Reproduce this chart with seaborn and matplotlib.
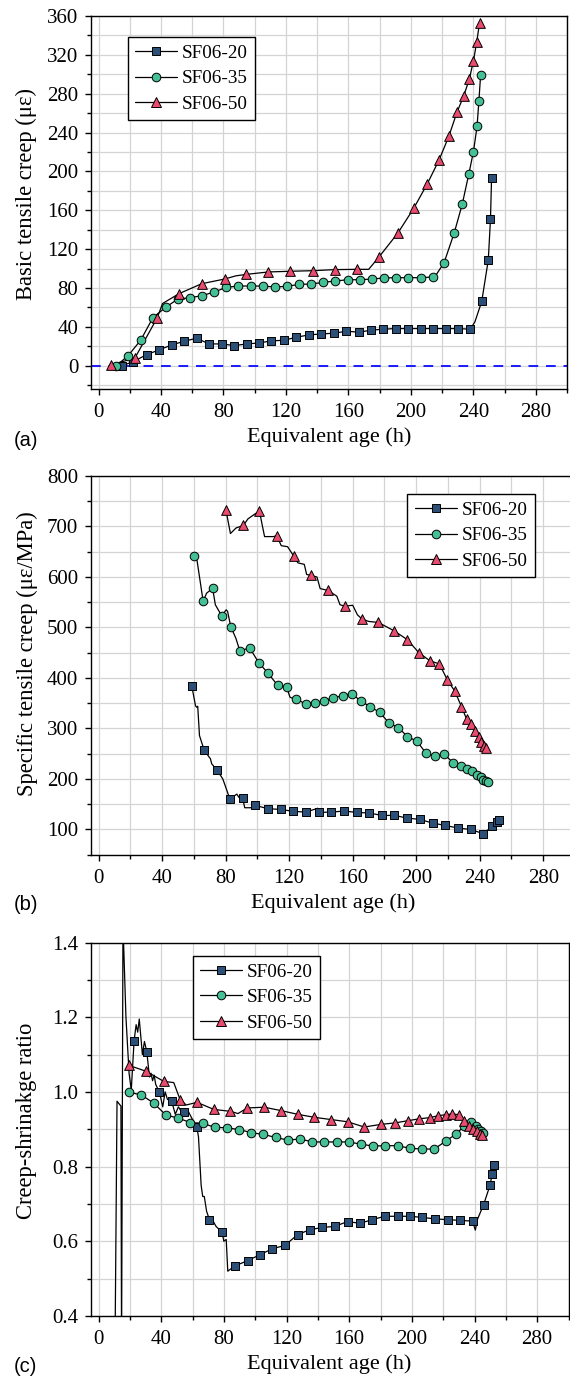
import numpy as np
import pandas as pd
import matplotlib
matplotlib.use("Agg")
import matplotlib.pyplot as plt
import seaborn as sns
from matplotlib.lines import Line2D
from matplotlib.ticker import MultipleLocator

# ---------------- DATA ----------------
series_names = ["SF06-20", "SF06-35", "SF06-50"]

# Panel (a): basic tensile creep (με)
a20_x = [15.1, 22.0, 30.9, 38.7, 46.9, 55.0, 62.9, 70.7, 78.9, 87.0, 94.9, 102.8, 110.6, 118.8, 126.7, 134.8,
         142.7, 150.8, 158.7, 166.8, 174.4, 182.3, 190.4, 198.3, 206.2, 214.1, 222.2, 230.1, 238.0, 245.4,
         249.6, 251.0, 251.7]
a20_y = [0.0, 4.0, 11.4, 16.2, 21.4, 25.2, 28.3, 22.4, 22.4, 20.7, 22.4, 23.4, 25.5, 26.2, 29.3, 31.7,
         32.7, 33.4, 35.5, 34.5, 36.5, 37.6, 38.2, 38.2, 38.2, 38.2, 38.2, 38.2, 37.6, 66.1,
         108.9, 150.9, 193.6]
a20_xe = [12.0, 241.0]
a20_ye = [0.0, 45.0]

a35_x = [11.4, 19.0, 27.1, 34.8, 42.9, 50.8, 58.5, 66.1, 74.0, 81.7, 89.5, 97.4, 105.1, 113.0, 120.6, 128.5,
         136.2, 144.0, 151.7, 159.6, 167.2, 175.1, 182.8, 190.7, 198.3, 206.2, 213.9, 221.3, 227.8, 232.9,
         237.1, 240.1, 242.4, 243.6, 244.7]
a35_y = [0.0, 10.3, 26.5, 49.3, 60.0, 68.6, 70.0, 72.0, 75.8, 80.6, 82.0, 82.0, 82.0, 81.0, 81.7, 83.7,
         84.1, 85.8, 87.2, 88.5, 88.5, 89.2, 90.3, 90.6, 90.6, 90.6, 91.3, 106.1, 136.8, 166.1,
         197.1, 220.5, 246.3, 272.9, 299.7]
a35_xe = [216.0]
a35_ye = [93.0]

a50_x = [7.9, 23.2, 37.6, 51.5, 66.1, 80.7, 94.6, 108.8, 122.9, 137.3, 151.4, 165.8, 179.8, 191.8, 201.8,
         210.6, 218.0, 224.3, 229.6, 233.8, 237.5, 240.1, 242.2, 244.0]
a50_y = [1.0, 7.6, 49.3, 74.1, 84.4, 89.2, 94.0, 96.5, 97.2, 97.8, 98.9, 99.2, 112.3, 136.8, 161.9,
         187.4, 211.5, 236.0, 261.2, 277.4, 295.3, 313.9, 333.2, 353.1]
a50_xe = [41.0, 88.0, 173.0]
a50_ye = [64.0, 92.5, 99.2]

# Panel (b): specific tensile creep (με/MPa)
b20_x = [58.7, 66.5, 74.7, 82.7, 90.7, 98.7, 106.7, 114.7, 122.5, 130.5, 138.5, 146.5, 154.5, 162.5, 170.5,
         178.3, 186.3, 194.3, 202.3, 210.3, 218.3, 226.3, 234.3, 242.3, 248.0, 250.7, 252.1]
b20_y = [383.6, 256.7, 217.0, 159.6, 162.2, 147.7, 141.0, 139.7, 135.8, 134.4, 133.8, 134.4, 136.4, 133.8, 132.5,
         127.8, 127.8, 122.5, 119.9, 112.6, 108.0, 102.7, 100.0, 91.5, 106.7, 114.6, 118.0]
b20_xe = [61.0, 61.7, 62.4, 63.5, 70.4, 71.2, 78.2, 80.0, 85.7, 87.0, 88.5, 92.0, 97.0, 138.0]
b20_ye = [345.0, 342.0, 344.0, 286.0, 240.0, 230.0, 200.0, 184.0, 167.0, 170.0, 163.0, 143.0, 143.0, 142.0]

b35_x = [60.1, 65.8, 71.8, 77.5, 83.2, 88.9, 95.1, 100.8, 106.7, 112.7, 118.4, 124.3, 130.3, 136.0, 141.9,
         147.7, 153.6, 159.3, 165.3, 171.2, 176.9, 182.9, 188.8, 194.5, 200.5, 206.2, 212.1, 217.6, 223.3,
         227.9, 232.0, 235.4, 238.2, 240.5, 242.3, 243.9, 245.0]
b35_y = [641.4, 552.2, 577.3, 523.1, 501.9, 453.7, 459.6, 430.5, 409.4, 385.6, 381.6, 358.5, 348.6, 349.9, 355.2,
         360.5, 365.1, 369.1, 353.9, 342.6, 332.1, 310.9, 301.7, 283.8, 274.6, 250.8, 245.5, 248.8, 232.3,
         225.0, 219.0, 215.1, 208.5, 203.2, 198.6, 195.9, 193.9]
b35_xe = [62.0, 68.0, 73.5, 80.3, 81.2, 86.5, 120.5, 122.0]
b35_ye = [632.0, 568.0, 545.0, 535.0, 532.0, 478.0, 362.0, 360.0]

b50_x = [80.2, 91.2, 101.3, 112.2, 123.0, 133.7, 144.5, 155.0, 165.7, 176.2, 186.1, 194.3, 201.8, 208.7, 214.6,
         219.7, 224.2, 228.5, 231.7, 234.7, 237.3, 239.3, 241.1, 242.7, 244.1]
b50_y = [732.6, 702.2, 730.0, 681.7, 640.7, 603.0, 573.3, 542.2, 517.1, 509.9, 493.3, 476.1, 449.7, 433.8, 427.9,
         395.5, 374.4, 343.3, 318.8, 309.6, 294.4, 282.5, 272.6, 265.3, 262.0]
b50_xe = [83.0, 86.5, 94.0, 98.5, 103.2, 104.5, 110.0, 115.0, 119.0, 125.5, 129.5, 131.0, 137.5, 139.5,
          150.0, 152.0, 160.0, 163.0, 170.0]
b50_ye = [686.0, 697.0, 715.0, 725.0, 700.0, 680.0, 680.0, 662.0, 660.0, 628.0, 625.0, 605.0, 600.0, 577.0,
          562.0, 545.0, 544.0, 525.0, 512.0]

# Panel (c): creep-shrinkage ratio
c20_x = [22.7, 30.8, 38.9, 46.7, 54.8, 62.7, 70.8, 78.9, 87.0, 95.1, 103.0, 110.9, 119.0, 127.1, 134.9, 142.8,
         150.9, 159.0, 166.9, 174.7, 182.8, 190.9, 198.8, 206.7, 214.8, 222.9, 230.7, 238.8, 245.8, 249.9,
         251.3, 252.3]
c20_y = [1.137, 1.108, 0.999, 0.975, 0.946, 0.906, 0.658, 0.624, 0.534, 0.548, 0.564, 0.580, 0.589, 0.618,
         0.631, 0.637, 0.640, 0.653, 0.648, 0.658, 0.667, 0.667, 0.667, 0.664, 0.660, 0.658, 0.656, 0.654,
         0.698, 0.750, 0.781, 0.805]
c20_xe = [10.5, 11.8, 14.3, 14.7, 15.6, 17.5, 19.5, 20.9, 24.0, 25.0, 26.0, 28.0, 29.3, 32.5, 33.5, 34.5,
          35.5, 36.5, 41.0, 42.5, 44.0, 49.0, 51.0, 52.5, 57.0, 59.5, 63.8, 65.5, 66.5, 67.5, 69.0, 73.0,
          75.0, 80.0, 81.5, 82.5, 240.5, 242.0]
c20_ye = [0.30, 0.975, 0.962, 0.30, 1.45, 1.20, 1.05, 1.005, 1.18, 1.16, 1.195, 1.10, 1.135, 1.04, 1.05, 1.03,
          1.045, 1.02, 0.96, 1.00, 0.98, 0.94, 0.96, 0.95, 0.95, 0.93, 0.88, 0.75, 0.72, 0.72, 0.68, 0.655,
          0.64, 0.60, 0.605, 0.52, 0.63, 0.66]

c35_x = [19.4, 27.3, 35.2, 43.0, 50.7, 58.6, 66.4, 74.3, 81.9, 89.8, 97.4, 105.3, 113.2, 120.8, 128.7, 136.5,
         144.2, 152.0, 159.7, 167.6, 175.2, 183.1, 190.9, 198.8, 206.4, 214.3, 221.9, 228.2, 233.3, 237.7,
         240.7, 242.5, 243.9, 245.3]
c35_y = [0.999, 0.992, 0.970, 0.938, 0.930, 0.918, 0.916, 0.905, 0.904, 0.899, 0.891, 0.886, 0.878, 0.871,
         0.874, 0.866, 0.866, 0.866, 0.866, 0.860, 0.855, 0.856, 0.856, 0.849, 0.847, 0.847, 0.869, 0.887,
         0.908, 0.919, 0.908, 0.901, 0.896, 0.890]
c35_xe = []
c35_ye = []

c50_x = [19.4, 30.5, 41.7, 52.1, 62.9, 73.6, 84.2, 94.9, 105.8, 116.4, 127.1, 137.7, 148.3, 159.0, 169.6,
         180.3, 189.3, 197.6, 204.8, 211.3, 216.6, 221.5, 225.9, 229.8, 233.3, 236.5, 239.3, 241.6, 243.2, 244.6]
c50_y = [1.071, 1.055, 1.028, 0.979, 0.972, 0.953, 0.948, 0.957, 0.959, 0.950, 0.940, 0.932, 0.926, 0.920, 0.906,
         0.913, 0.917, 0.923, 0.928, 0.931, 0.936, 0.939, 0.941, 0.939, 0.923, 0.908, 0.901, 0.895, 0.888, 0.885]
c50_xe = [48.0, 56.0, 89.0]
c50_ye = [1.025, 0.965, 0.942]

# ---------------- STYLE ----------------
sns.set_theme(style="white")
plt.rcParams['font.family'] = ['Liberation Serif', 'DejaVu Serif']
for k in ['text.color', 'axes.labelcolor', 'xtick.color', 'ytick.color', 'axes.edgecolor']:
    plt.rcParams[k] = 'black'

colors = ["#2b4f76", "#45c095", "#e84b6d"]
markers = ["s", "o", "^"]
msizes = [5.2, 6.2, 7.0]

fig = plt.figure(figsize=(5.7, 13.79), dpi=100)

positions = [
    [90.7 / 570, 1 - 389 / 1379, (567 - 90.7) / 570, (389 - 16) / 1379],
    [90.7 / 570, 1 - 854.7 / 1379, (575 - 90.7) / 570, (854.7 - 476) / 1379],
    [90.7 / 570, 1 - 1316 / 1379, (568.5 - 90.7) / 570, (1316 - 942.5) / 1379],
]

panels = [
    dict(data=[(a20_x, a20_y, a20_xe, a20_ye), (a35_x, a35_y, a35_xe, a35_ye), (a50_x, a50_y, a50_xe, a50_ye)],
         ylim=(-24, 360), ymaj=40, ymin=20, ylabel="Basic tensile creep (\u03bc\u03b5)",
         leg=(0.0775, 0.943), tag="(a)", tag_y=440, ylab=(-0.112, 0.522)),
    dict(data=[(b20_x, b20_y, b20_xe, b20_ye), (b35_x, b35_y, b35_xe, b35_ye), (b50_x, b50_y, b50_xe, b50_ye)],
         ylim=(50, 800), ymaj=100, ymin=50, ylabel="Specific tensile creep (\u03bc\u03b5/MPa)",
         leg=(0.654, 0.952), tag="(b)", tag_y=905, ylab=(-0.108, 0.53)),
    dict(data=[(c20_x, c20_y, c20_xe, c20_ye), (c35_x, c35_y, c35_xe, c35_ye), (c50_x, c50_y, c50_xe, c50_ye)],
         ylim=(0.4, 1.4), ymaj=0.2, ymin=0.1, ylabel="Creep-shrinakge ratio",
         leg=(0.2135, 0.964), tag="(c)", tag_y=1367, ylab=(-0.112, 0.522)),
]

for i, (pos, p) in enumerate(zip(positions, panels)):
    ax = fig.add_axes(pos)
    ax.set_axisbelow(True)
    ax.grid(which='both', color='#d4d4d4', lw=0.9)
    if i == 0:
        ax.axhline(0, color='#1a1aff', lw=1.4, ls=(0, (5, 4)), zorder=1.5)
    for (xm, ym, xe, ye), col, mk, ms in zip(p['data'], colors, markers, msizes):
        lx = np.concatenate([np.asarray(xm, float), np.asarray(xe, float)])
        ly = np.concatenate([np.asarray(ym, float), np.asarray(ye, float)])
        order = np.argsort(lx, kind='stable')
        df = pd.DataFrame({'x': lx[order], 'y': ly[order]})
        sns.lineplot(data=df, x='x', y='y', ax=ax, sort=False, estimator=None,
                     color='black', lw=0.9, zorder=2)
        sns.scatterplot(x=list(xm), y=list(ym), ax=ax, marker=mk, s=ms ** 2, color=col,
                        edgecolor='black', linewidth=0.7, zorder=3)
    ax.set_xlim(-5, 300)
    ax.set_ylim(*p['ylim'])
    ax.xaxis.set_major_locator(MultipleLocator(40))
    ax.xaxis.set_minor_locator(MultipleLocator(20))
    ax.yaxis.set_major_locator(MultipleLocator(p['ymaj']))
    ax.yaxis.set_minor_locator(MultipleLocator(p['ymin']))
    ax.set_xticks(np.arange(0, 281, 40))
    if i == 2:
        ax.set_yticks(np.round(np.arange(0.4, 1.41, 0.2), 1))
        ax.set_yticklabels([f"{v:.1f}" for v in np.arange(0.4, 1.41, 0.2)])
    for s in ax.spines.values():
        s.set_visible(True)
        s.set_color('black')
        s.set_linewidth(1.0)
    ax.tick_params(which='major', direction='out', length=4.5, width=1.0, labelsize=15,
                   left=True, bottom=True, top=False, right=False)
    ax.tick_params(which='minor', direction='out', length=2.8, width=1.0,
                   left=True, bottom=True, top=False, right=False)
    ax.tick_params(axis='x', which='major', pad=5.5)
    ax.tick_params(axis='y', which='major', pad=4.5)
    ax.set_xlabel("Equivalent age (h)", fontsize=16)
    ax.set_ylabel(p['ylabel'], fontsize=16.3)
    ax.xaxis.set_label_coords(0.5, -0.103)
    ax.yaxis.set_label_coords(*p['ylab'])

    handles = [Line2D([0], [0], color='black', lw=0.9, marker=mk, markersize=ms,
                      markerfacecolor=col, markeredgecolor='black', markeredgewidth=0.7)
               for col, mk, ms in zip(colors, markers, msizes)]
    leg = ax.legend(handles, series_names, loc='upper left', bbox_to_anchor=p['leg'],
                    frameon=True, fancybox=False, edgecolor='black', framealpha=1,
                    fontsize=13.8, handlelength=2.2, borderpad=0.38, labelspacing=0.42,
                    handletextpad=0.25, borderaxespad=0)
    leg.get_frame().set_linewidth(1.0)

    fig.text(14 / 570, 1 - p['tag_y'] / 1379, p['tag'], fontfamily=['Liberation Sans', 'DejaVu Sans'],
             fontsize=14.5, ha='left', va='center')

fig.savefig("out.png", dpi=100)
